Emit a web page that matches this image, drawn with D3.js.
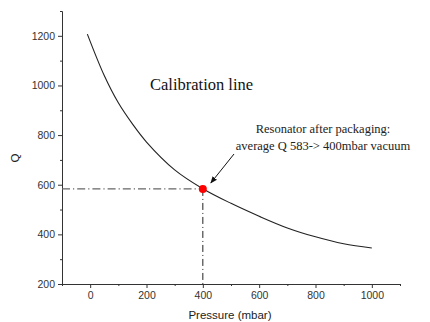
<!DOCTYPE html>
<html>
<head>
<meta charset="utf-8">
<script src="https://cdn.jsdelivr.net/npm/d3@7"></script>
<style>
  body { margin: 0; background: #fff; }
  .tick text { font-family: "Liberation Sans", Arial, sans-serif; font-size: 10.5px; fill: #333; }
  .domain, .tick line { stroke: #333; }
</style>
</head>
<body>
<div id="chart"></div>
<script>
// calibration curve
const pressure = [-10, 50, 100, 150, 200, 300, 400, 500, 600, 700, 800, 900, 1000];
const qValues  = [1207, 1040, 930, 845, 772, 660, 584, 525, 473, 426, 390, 362, 345];

// measured resonator
const pointP = 400;
const pointQ = 583;

const xMajor = [0, 200, 400, 600, 800, 1000];
const xMinor = [-100, 100, 300, 500, 700, 900, 1100];
const yMajor = [200, 400, 600, 800, 1000, 1200];
const yMinor = [300, 500, 700, 900, 1100, 1300];

const width = 430, height = 322;

let svg = d3.select("#chart").append("svg")
    .attr("width", width)
    .attr("height", height);

let x = d3.scaleLinear().domain([-100, 1100]).range([62, 400]);
let y = d3.scaleLinear().domain([200, 1300]).range([284, 11]);
let fmt = d3.format("d");

//axes, major then minor ticks
svg.append("g")
    .attr("transform", "translate(0," + y(200) + ")")
    .call(d3.axisBottom(x).tickValues(xMajor).tickFormat(fmt).tickSize(4).tickSizeOuter(0).tickPadding(4));
svg.append("g")
    .attr("transform", "translate(0," + y(200) + ")")
    .call(d3.axisBottom(x).tickValues(xMinor).tickSize(2).tickSizeOuter(0).tickFormat(""));
svg.append("g")
    .attr("transform", "translate(" + x(-100) + ",0)")
    .call(d3.axisLeft(y).tickValues(yMajor).tickFormat(fmt).tickSize(4).tickSizeOuter(0).tickPadding(3));
svg.append("g")
    .attr("transform", "translate(" + x(-100) + ",0)")
    .call(d3.axisLeft(y).tickValues(yMinor).tickSize(2).tickSizeOuter(0).tickFormat(""));

//axis titles
svg.append("text")
    .attr("x", 230).attr("y", 319)
    .attr("text-anchor", "middle")
    .style("font-family", "Liberation Sans, Arial, sans-serif")
    .style("font-size", "11.5px")
    .attr("fill", "#222")
    .text("Pressure (mbar)");

svg.append("text")
    .attr("transform", "translate(19,158) rotate(-90)")
    .attr("text-anchor", "middle")
    .style("font-family", "Liberation Sans, Arial, sans-serif")
    .style("font-size", "11.5px")
    .attr("fill", "#222")
    .text("Q");

//guide lines to the measured point
svg.append("line")
    .attr("x1", x(-100)).attr("x2", x(pointP))
    .attr("y1", y(pointQ)).attr("y2", y(pointQ))
    .attr("stroke", "#666").attr("stroke-width", 1.3)
    .attr("stroke-dasharray", "8,3,1.2,3");
svg.append("line")
    .attr("x1", x(pointP)).attr("x2", x(pointP))
    .attr("y1", y(pointQ)).attr("y2", y(200))
    .attr("stroke", "#222").attr("stroke-width", 1)
    .attr("stroke-dasharray", "7,3,1,3");

//curve
let line = d3.line()
    .x((d, i) => x(pressure[i]))
    .y(d => y(d))
    .curve(d3.curveCatmullRom);

svg.append("path")
    .datum(qValues)
    .attr("d", line)
    .attr("fill", "none")
    .attr("stroke", "#222")
    .attr("stroke-width", 1.1);

svg.append("circle")
    .attr("cx", x(pointP)).attr("cy", y(pointQ))
    .attr("r", 4)
    .attr("fill", "#f00");

//labels
svg.append("text")
    .attr("x", 150).attr("y", 90)
    .style("font-family", "Liberation Serif, Times New Roman, serif")
    .style("font-size", "16.5px")
    .attr("fill", "#111")
    .text("Calibration line");

let notes = ["Resonator after packaging:", "average Q 583-> 400mbar vacuum"];
svg.selectAll(".note")
    .data(notes)
    .enter()
    .append("text")
    .attr("class", "note")
    .attr("x", 323)
    .attr("y", (d, i) => 133 + i * 17)
    .attr("text-anchor", "middle")
    .style("font-family", "Liberation Serif, Times New Roman, serif")
    .style("font-size", "12.5px")
    .attr("fill", "#222")
    .text(d => d);

//arrow
svg.append("defs").append("marker")
    .attr("id", "head")
    .attr("viewBox", "0 0 10 10")
    .attr("refX", 9).attr("refY", 5)
    .attr("markerWidth", 7).attr("markerHeight", 7)
    .attr("orient", "auto")
    .append("path")
    .attr("d", "M0,1 L10,5 L0,9 Z")
    .attr("fill", "#111");

svg.append("line")
    .attr("x1", 234).attr("y1", 154)
    .attr("x2", x(pointP) + 8).attr("y2", y(pointQ) - 6)
    .attr("stroke", "#111").attr("stroke-width", 1)
    .attr("marker-end", "url(#head)");
</script>
</body>
</html>
